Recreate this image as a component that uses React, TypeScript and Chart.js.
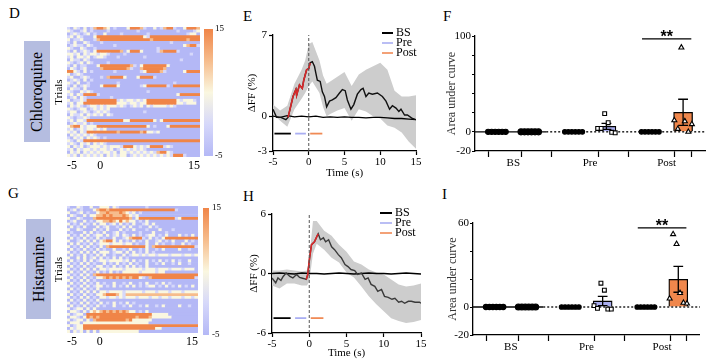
import React, { useEffect, useRef } from "react";
import { Chart, registerables } from "chart.js";

Chart.register(...registerables);

const SERIF = "'Liberation Serif', 'Times New Roman', Times, serif";

// ───────────── Heatmaps D (Chloroquine) and G (Histamine) ─────────────
// one string per trial, one character per 0.5 s bin from -5 s to 15 s
// character code -> ΔF/F value (%): 0 → -5, 1 → 0, 2 → 5, 3 → 10, 4 → 15
const heatCodeValues = [-5, 0, 5, 10, 15];
const heatStartTime = -5;
const heatBinWidth = 0.5;
const heatXTicks = [-5, 0, 15];
const colorbarRange = [-5, 15];

const heatRowsD = [
  "1021020134 4320100024 4431002013 4410024443",
  "2100120100 0010000000 0100000000 0001000012",
  "0121012010 0200001000 0000100000 0000001220",
  "1202100024 4444444444 4442144444 4444444444",
  "2011200013 4444444444 4444434444 4444443444",
  "1020021000 1000000000 0000000000 0100000000",
  "0121102100 0000100000 0000000000 0000023441",
  "2100210010 0000000000 0000000100 0000000000",
  "1020121024 4444443024 4420000134 4441000000",
  "2212021221 2210000100 0000000000 0000000100",
  "1202212012 2100010000 0001000000 0000000000",
  "0211021000 0000000000 0000000000 0000100000",
  "2101202100 0010000000 0000000000 0000000000",
  "1020110002 4444444443 1024444444 2000000000",
  "0210120000 3444444431 0034444443 0000000000",
  "4421020100 0000100000 0012444431 0000024444",
  "2012100000 0000000000 0000000000 0000000000",
  "1200121000 1034444200 0244441000 0000000000",
  "0121020100 0000000000 0000000000 0000000000",
  "2102001000 0000010000 0000000000 0010000000",
  "1020121000 2444420000 0012444444 1044444444",
  "0211020000 0000000000 0000000000 0000000000",
  "2100212100 0000000000 0000100000 0000000000",
  "1202144441 0000000000 0000000000 0002444444",
  "0120210000 0001000000 0000000000 0000000000",
  "2011214444 4444412122 1212444444 4442122210",
  "1202244444 4444422212 2122444444 4442212220",
  "0212101221 2122212101 2120212222 1210000000",
  "2101220121 2120000000 0000000000 0000000000",
  "1220121012 1210000000 0001000000 0000000000",
  "0211202121 2021000000 0000000000 0000000000",
  "2101121000 0000000000 0000000000 0000000000",
  "1202214444 4444444224 4444442024 4444444444",
  "0121120100 0000000000 0000000000 0000000000",
  "2344212224 4444444444 4444201000 2444444444",
  "1201212212 1200000000 0000000000 0000000000",
  "2120214444 4444434444 4434221200 0000000000",
  "0212121210 0000000000 0000000000 0000000000",
  "1021202121 0100000000 0000000000 0000000000",
  "2102144444 4444444444 4444444444 4444444444",
  "1210212021 2100000000 0000000000 0000000000",
  "2021201222 1212221444 2121244441 2100000000",
  "1202122121 2212012121 2121000000 0000000000",
  "0212021212 1221202212 1212121344 2100000000",
  "2120212121 2021212201 2121212121 2144410000",
];

const heatRowsG = [
  "1002100200 2220210000 0000100000 0000000000",
  "0120100023 4434444444 4444444444 4441000000",
  "2001201002 3343334321 2010000000 0000000000",
  "0210020223 3434333432 1200000000 0000000000",
  "2002100034 4444444443 0244444444 4441244444",
  "0120020102 2334324232 2010200000 0000000000",
  "2010201020 2201202010 2001202000 0000000000",
  "0201020002 0120010202 0010020100 0000000000",
  "2002100020 1020002010 2000100020 0010000000",
  "0100020201 0200120100 0010002000 1000000000",
  "2010202012 2020120210 2010122010 2000201020",
  "0201020102 0100200123 4441020102 4444444444",
  "2001202020 2344202010 2010200120 1020002010",
  "0202010201 2221222122 0100200201 0010020100",
  "2010202010 2034444444 4444203444 4444444441",
  "0201020102 0100200102 0010200102 0000200100",
  "2010202020 2220122020 2010201000 0000000000",
  "0201020102 0200100201 2212122122 2122212212",
  "2002020120 2010202010 0000000000 0000000000",
  "0201020201 2212222120 2010201020 1020100200",
  "2010202010 0201020102 0100200102 0010200100",
  "0201020102 2010201020 2010200000 0000000000",
  "2010202020 2212222122 2221222122 2122212220",
  "0201020102 0102010222 2212222122 0000000000",
  "2010202034 4444444444 4444444444 4444444444",
  "0201020102 2343434343 4421034444 4444444441",
  "2010202010 0000000000 0000000000 0000000000",
  "0201020102 0100200102 0010200102 0100000000",
  "2010202012 2010201020 2010122010 2010201020",
  "0201020102 0000000000 0000000000 0000000000",
  "2010202020 2212222122 2221222122 2122212222",
  "0201020102 2344432133 3333333333 3333333333",
  "2010202010 2212212122 2122212212 2122212212",
  "0201020102 0000000000 0000000000 0000000000",
  "2010202010 2010201020 1000000000 0000000000",
  "0201020102 0100200102 0010200102 0000200100",
  "2012202020 0000000000 0000000000 0000000000",
  "0221020232 3434343432 2010200000 0000000000",
  "2012204444 4444444444 4444442222 2000000000",
  "0221024343 4444444444 4344432222 2200000000",
  "2012202034 4444444434 2222220000 0000000000",
  "0222022222 2222222222 2222200000 0000000000",
  "2012244444 4444444444 4444444444 4444444444",
  "0212244444 4444444444 4444444220 0000000000",
  "2021202020 2222222222 2200000000 0000000000",
];

// ───────────── Mean traces E (Chloroquine) and H (Histamine) ─────────────
const periodNames = ["BS", "Pre", "Post"];
const periodWindows = [
  [-4.8, -2.5],
  [-1.9, -0.4],
  [0.2, 1.9],
];

const eTime = [-5, -4.5, -3.9, -3.2, -2.9, -2.7, -2.2, -1.8, -1.7, -1.3, -0.9, -0.7, -0.3, 0.0, 0.2, 0.5, 0.8, 1.0, 1.2, 1.6, 1.9, 2.2, 2.5, 2.9, 3.3, 3.8, 4.3, 4.7, 5.1, 5.4, 5.9, 6.3, 6.8, 7.3, 7.6, 8.0, 8.4, 8.9, 9.6, 10.3, 10.8, 11.3, 11.7, 12.2, 12.6, 12.9, 13.4, 13.8, 14.5, 15.0];
const eMean = [0.6, -0.1, -0.1, -0.3, -0.1, 0.4, 1.7, 2.3, 1.8, 2.7, 2.4, 3.1, 4.0, 4.1, 4.6, 4.7, 4.3, 3.7, 3.1, 3.0, 2.1, 1.7, 0.8, 1.3, 1.4, 1.6, 2.0, 2.3, 2.2, 1.4, 0.6, 1.0, 1.9, 2.3, 2.4, 1.7, 2.0, 1.9, 2.0, 1.7, 1.3, 0.6, 0.9, 0.7, 0.4, 0.6, 0.1, 0.1, -0.2, -0.3];
const eRedWindow = [-2.9, 0.2];
const eFlatTime = [-5, -4, -3, -2, -1, 0, 1, 2, 3, 4, 5, 6, 7, 8, 9, 10, 11, 12, 13, 14, 15];
const eFlat = [0.0, -0.1, 0.05, -0.05, 0.0, -0.05, 0.0, -0.1, -0.05, -0.1, -0.05, -0.1, -0.1, -0.15, -0.1, -0.1, -0.15, -0.2, -0.2, -0.25, -0.3];
const eBandTime = [-5, -4, -3, -2, -1, -0.5, 0, 0.5, 1, 1.5, 2, 2.5, 3, 4, 5, 6, 7, 8, 9, 10, 11, 12, 13, 14, 15];
const eUpper = [1.0, 0.5, 0.9, 2.8, 4.0, 4.8, 6.2, 6.4, 5.6, 4.8, 3.5, 2.8, 3.0, 3.4, 3.8, 2.6, 3.6, 4.0, 4.3, 4.6, 4.0, 2.2, 1.7, 1.7, 1.8];
const eLower = [0.2, -0.4, -0.9, 0.6, 1.5, 2.0, 2.6, 3.0, 2.5, 2.0, 0.8, 0.0, 0.2, 0.5, 0.7, -0.4, 0.6, 0.4, 0.0, -0.2, -0.8, -1.0, -1.4, -2.2, -2.8];
const eYTicks = [-3, 0, 7];
const ePeriodLevel = -1.5;

const hTime = [-5, -4.5, -4.2, -3.8, -3.5, -3.1, -2.6, -2.2, -1.7, -1.3, -0.8, -0.4, -0.2, 0.05, 0.3, 0.7, 1.0, 1.2, 1.5, 1.9, 2.2, 2.6, 3.0, 3.4, 3.9, 4.3, 4.8, 5.2, 5.6, 6.1, 6.5, 7.0, 7.5, 7.9, 8.3, 8.8, 9.2, 9.7, 10.1, 10.6, 11.1, 11.5, 12.0, 12.4, 12.8, 13.3, 13.7, 14.2, 14.8, 15.0];
const hMean = [-0.45, -0.95, -0.45, -0.7, -0.3, 0.05, -0.3, -0.45, -0.1, -0.4, -0.5, -0.6, -0.1, 1.6, 2.9, 3.2, 3.7, 4.0, 3.4, 3.6, 3.2, 3.4, 2.7, 2.4, 1.9, 1.6, 0.9, 0.7, 0.4, 0.3, -0.1, 0.05, -0.6, -0.45, -1.1, -1.3, -1.8, -1.6, -2.3, -2.4, -2.6, -2.5, -2.9, -2.8, -3.0, -2.8, -2.8, -2.9, -2.9, -3.0];
const hRedWindow = [-0.4, 1.2];
const hFlatTime = [-5, -4, -3, -2, -1, 0, 1, 2, 3, 4, 5, 6, 7, 8, 9, 10, 11, 12, 13, 14, 15];
const hFlat = [0, 0.05, 0, -0.05, 0.05, 0, 0, -0.05, 0, 0.05, 0, -0.05, 0, 0.05, 0, 0, -0.05, 0, 0.05, 0, -0.05];
const hBandTime = [-5, -4, -3, -2, -1, -0.3, 0, 0.5, 1, 2, 3, 4, 5, 6, 7, 8, 9, 10, 11, 12, 13, 14, 15];
const hUpper = [0.3, 0.3, 0.4, 0.3, 0.2, 0.3, 1.5, 5.3, 5.3, 4.3, 3.8, 2.9, 2.2, 1.2, 0.9, 0.4, 0.1, -0.1, -0.6, -1.1, -1.3, -1.2, -1.0];
const hLower = [-1.2, -1.5, -1.0, -1.0, -1.2, -1.2, -0.8, 2.0, 3.0, 2.4, 1.6, 1.1, 0.1, -0.4, -1.3, -2.3, -3.1, -3.8, -4.5, -4.8, -5.0, -4.9, -4.7];
const hYTicks = [-6, 0, 6];
const hPeriodLevel = -4.5;

// ───────────── Area under curve F (Chloroquine) and I (Histamine) ─────────────
const groupLabels = ["BS", "Pre", "Post"];
const fBS1 = [0, 0, 0, 0, 0, 0];
const fBS2 = [0, 0, 0, 0, 0, 0];
const fPre1 = [0, 0, 0, 0, 0, 0];
const fPre2 = [3.5, 3.5, 19, 9.5, -0.5, -1];
const fPost1 = [0, 0, 0, 0, 0, 0];
const fPost2 = [12, 3, 88, 11, 0, 8];
const fYLabelled = [-20, 0, 100];
const fSignificance = 97;

const iBS1 = [0, 0, 0, 0, 0, 0];
const iBS2 = [0, 0, 0, 0, 0, 0];
const iPre1 = [0, 0, 0, 0, 0, 0];
const iPre2 = [1, -1, 17, 12, -1.5, -1.5];
const iPost1 = [0, 0, 0, 0, 0, 0];
const iPost2 = [6, 52, 45, 10, 3, 2.5];
const iYLabelled = [-20, 0, 60];
const iSignificance = 56.5;

// ───────────── styles ─────────────
const colorStops: [number, number[]][] = [
  [-5, [180, 184, 246]],
  [0, [214, 216, 250]],
  [5, [250, 247, 224]],
  [10, [246, 188, 140]],
  [15, [240, 133, 72]],
];
const PRE_BLUE = "#a9adee";
const POST_ORANGE = "#f0874c";
const periodColors = ["#000000", "#a9aef2", "#f08a55"];
const BAND = "rgba(205,205,205,1)";
const RED = "#d9282a";

function rgb(c: number[]) {
  return `rgb(${Math.round(c[0])},${Math.round(c[1])},${Math.round(c[2])})`;
}
function valueColor(v: number) {
  if (v <= colorStops[0][0]) return rgb(colorStops[0][1]);
  for (let i = 1; i < colorStops.length; i++) {
    const [v1, c1] = colorStops[i];
    const [v0, c0] = colorStops[i - 1];
    if (v <= v1) {
      const f = (v - v0) / (v1 - v0);
      return rgb(c0.map((x, k) => x + (c1[k] - x) * f));
    }
  }
  return rgb(colorStops[colorStops.length - 1][1]);
}

const tickFont = { family: SERIF, size: 11 };
const titleFont = { family: SERIF, size: 11 };

const fixWidth = (w: number) => (s: any) => {
  s.width = w;
};
const fixHeight = (h: number) => (s: any) => {
  s.height = h;
};
const setTicks = (vals: number[]) => (s: any) => {
  s.ticks = vals.map((value) => ({ value }));
};

// ───────────── heatmap ─────────────
function heatConfig(rows: string[], lay: { top: number; right: number; xH: number; yW: number; titlePad: number }) {
  const cells: any[] = [];
  const colors: string[] = [];
  rows.forEach((raw, r) => {
    const row = raw.replace(/\s/g, "");
    let j = 0;
    while (j < row.length) {
      let k = j + 1;
      while (k < row.length && row[k] === row[j]) k++;
      cells.push({ x: [heatStartTime + j * heatBinWidth, heatStartTime + k * heatBinWidth], y: String(r) });
      colors.push(valueColor(heatCodeValues[Number(row[j])]));
      j = k;
    }
  });
  return {
    type: "bar",
    data: {
      labels: rows.map((_, r) => String(r)),
      datasets: [{ data: cells, backgroundColor: colors, borderWidth: 0, barPercentage: 1, categoryPercentage: 1 }],
    },
    options: {
      indexAxis: "y",
      responsive: false,
      animation: false,
      devicePixelRatio: 1,
      layout: { padding: { top: lay.top, right: lay.right, left: 0, bottom: 0 } },
      plugins: { legend: { display: false }, tooltip: { enabled: false } },
      scales: {
        x: {
          type: "linear",
          min: heatStartTime,
          max: 15,
          afterBuildTicks: setTicks(heatXTicks),
          ticks: { align: "inner", font: { family: SERIF, size: 12 }, color: "#000", padding: 2, maxRotation: 0, autoSkip: false },
          grid: { display: false, drawTicks: false },
          border: { display: false },
          afterFit: fixHeight(lay.xH),
        },
        y: {
          type: "category",
          ticks: { display: false },
          grid: { display: false, drawTicks: false },
          border: { display: false },
          title: { display: true, text: "Trials", font: { family: SERIF, size: 11 }, color: "#000", padding: { top: lay.titlePad, bottom: 0 } },
          afterFit: fixWidth(lay.yW),
        },
      },
    },
  };
}

function colorbarConfig(lay: { left: number; top: number; bottom: number; yW: number; pad: number }) {
  const fill = (ctx: any) => {
    const chart = ctx.chart;
    const y = chart.scales.y;
    if (!chart.chartArea || !y) return "#ccc";
    const g = chart.ctx.createLinearGradient(0, y.getPixelForValue(colorbarRange[0]), 0, y.getPixelForValue(colorbarRange[1]));
    colorStops.forEach(([v, c]) => g.addColorStop((v - colorbarRange[0]) / (colorbarRange[1] - colorbarRange[0]), rgb(c)));
    return g;
  };
  return {
    type: "bar",
    data: { labels: [""], datasets: [{ data: [colorbarRange], backgroundColor: fill, borderWidth: 0, barPercentage: 1, categoryPercentage: 1 }] },
    options: {
      responsive: false,
      animation: false,
      devicePixelRatio: 1,
      layout: { padding: { left: lay.left, top: lay.top, bottom: lay.bottom, right: 0 } },
      plugins: { legend: { display: false }, tooltip: { enabled: false } },
      scales: {
        x: { display: false },
        y: {
          position: "right",
          min: colorbarRange[0],
          max: colorbarRange[1],
          afterBuildTicks: setTicks(colorbarRange),
          ticks: { font: { family: SERIF, size: 9 }, color: "#000", padding: lay.pad },
          grid: { display: false, drawTicks: false },
          border: { display: false },
          afterFit: fixWidth(lay.yW),
        },
      },
    },
  };
}

// ───────────── trace ─────────────
const periodLegendPlugin = {
  id: "periodLegend",
  afterDatasetsDraw(chart: any, _args: any, opts: any) {
    const { ctx, chartArea } = chart;
    ctx.save();
    periodNames.forEach((name, i) => {
      const y = chartArea.top + opts.y0 + i * opts.dy;
      const x0 = chartArea.right + opts.x0;
      ctx.strokeStyle = periodColors[i];
      ctx.lineWidth = i === 0 ? 2 : 1.6;
      ctx.beginPath();
      ctx.moveTo(x0, y);
      ctx.lineTo(x0 + opts.len, y);
      ctx.stroke();
      ctx.fillStyle = "#000";
      ctx.font = `12px ${SERIF}`;
      ctx.textBaseline = "middle";
      ctx.textAlign = "left";
      ctx.fillText(name, x0 + opts.len + 3, y);
    });
    ctx.restore();
  },
};

const pts = (xs: number[], ys: number[]) => xs.map((x, i) => ({ x, y: ys[i] }));

function traceConfig(p: any) {
  const yMin = p.yTicks[0];
  const yMax = p.yTicks[p.yTicks.length - 1];
  const meanPts = pts(p.time, p.mean);
  const axisGrid = { drawOnChartArea: false, tickLength: 4, tickColor: "#000", tickWidth: 1.2 };
  const axisBorder = { color: "#000", width: 1.3 };
  return {
    type: "line",
    data: {
      datasets: [
        { data: pts(p.bandTime, p.upper), borderWidth: 0, fill: "+1", backgroundColor: BAND, order: 10 },
        { data: pts(p.bandTime, p.lower), borderWidth: 0, fill: false, order: 10 },
        { data: pts(p.flatTime, p.flat), borderColor: "#000", borderWidth: 1.3, fill: false, order: 6 },
        { data: meanPts, borderColor: p.traceColor, borderWidth: 1.4, fill: false, order: 5 },
        { data: meanPts.filter((q) => q.x >= p.red[0] && q.x <= p.red[1]), borderColor: RED, borderWidth: 1.6, fill: false, order: 4 },
        { data: [{ x: 0, y: yMin }, { x: 0, y: yMax }], borderColor: "#555", borderWidth: 1, borderDash: [3, 2], fill: false, order: 3 },
        ...periodWindows.map((w, i) => ({
          data: [{ x: w[0], y: p.periodLevel }, { x: w[1], y: p.periodLevel }],
          borderColor: periodColors[i],
          borderWidth: 1.8,
          fill: false,
          order: 2,
        })),
      ],
    },
    options: {
      responsive: false,
      animation: false,
      devicePixelRatio: 1,
      layout: { padding: { top: p.lay.top, right: p.lay.right, left: 0, bottom: 0 } },
      elements: { point: { radius: 0 }, line: { tension: 0 } },
      plugins: { legend: { display: false }, tooltip: { enabled: false }, periodLegend: p.legend },
      scales: {
        x: {
          type: "linear",
          min: -5,
          max: 15,
          ticks: { stepSize: 5, font: tickFont, color: "#000", padding: 1, maxRotation: 0, autoSkip: false },
          grid: axisGrid,
          border: axisBorder,
          title: { display: true, text: "Time (s)", font: titleFont, color: "#000", padding: { top: 0, bottom: p.lay.xTitlePad } },
          afterFit: fixHeight(p.lay.xH),
        },
        y: {
          type: "linear",
          min: yMin,
          max: yMax,
          afterBuildTicks: setTicks(p.yTicks),
          ticks: { font: tickFont, color: "#000", padding: 2 },
          grid: axisGrid,
          border: axisBorder,
          title: { display: true, text: "ΔFF (%)", font: titleFont, color: "#000", padding: { top: p.lay.yTitlePad, bottom: 0 } },
          afterFit: fixWidth(p.lay.yW),
        },
      },
    },
    plugins: [periodLegendPlugin],
  };
}

// ───────────── area under curve bars ─────────────
const groupPositions = [2, 5, 9, 12, 16, 19];
const xAxisMax = 21;
const groupFills = ["#ffffff", "#ffffff", "#ffffff", PRE_BLUE, "#ffffff", POST_ORANGE];
const groupPointStyles = ["circle", "circle", "circle", "rect", "circle", "triangle"];
const groupPointFills = ["#000", "#000", "#000", "#fff", "#000", "#fff"];
const groupPointRadius = [2.6, 3, 2.3, 2.7, 2.3, 2.9];
const pointSpread = 0.32;
const capHalf = 0.45;
const sigOverhang = 0.75;

const mean = (v: number[]) => v.reduce((a, b) => a + b, 0) / v.length;
const sem = (v: number[]) => {
  const m = mean(v);
  const sd = Math.sqrt(v.reduce((a, b) => a + (b - m) * (b - m), 0) / (v.length - 1));
  return sd / Math.sqrt(v.length);
};

const starsPlugin = {
  id: "stars",
  afterDatasetsDraw(chart: any, _a: any, opts: any) {
    const { ctx, scales } = chart;
    const x = scales.x.getPixelForValue(opts.xMid);
    const y = scales.y.getPixelForValue(opts.level);
    ctx.save();
    ctx.fillStyle = "#000";
    ctx.font = "bold 16px 'Liberation Sans', Arial, sans-serif";
    ctx.textAlign = "center";
    ctx.textBaseline = "alphabetic";
    ctx.fillText("**", x, y + 3);
    ctx.restore();
  },
};

function barConfig(p: any) {
  const groups: number[][] = p.groups;
  const means = groups.map(mean);
  const sems = groups.map(sem);
  const labelPositions = groupLabels.map((_, k) => (groupPositions[2 * k] + groupPositions[2 * k + 1]) / 2);
  const tickValues = [...groupPositions, ...labelPositions].sort((a, b) => a - b);
  const isLabel = (v: number) => labelPositions.some((lp) => Math.abs(lp - v) < 1e-6);
  const err: any[] = [];
  groupPositions.forEach((x, i) => {
    if (!(sems[i] > 0)) return;
    const lo = means[i] - sems[i];
    const hi = means[i] + sems[i];
    err.push({ x, y: lo }, { x, y: hi }, { x, y: null });
    err.push({ x: x - capHalf, y: hi }, { x: x + capHalf, y: hi }, { x, y: null });
    err.push({ x: x - capHalf, y: lo }, { x: x + capHalf, y: lo }, { x, y: null });
  });
  const solidEnd = groupPositions[1] + 1.5;
  const sigFrom = groupPositions[4] - sigOverhang;
  const sigTo = groupPositions[5] + sigOverhang;
  const yMin = p.yLabelled[0];
  const yMax = p.yLabelled[p.yLabelled.length - 1];
  const grid = { drawOnChartArea: false, tickColor: "#000", tickWidth: 1.2 };
  return {
    type: "bar",
    data: {
      datasets: [
        {
          type: "bar",
          data: groupPositions.map((x, i) => ({ x, y: means[i] })),
          backgroundColor: groupFills,
          borderColor: "#000",
          borderWidth: 1.3,
          barThickness: 19,
          order: 6,
        },
        { type: "line", data: [{ x: 0, y: 0 }, { x: solidEnd, y: 0 }], borderColor: "#000", borderWidth: 1.3, pointRadius: 0, order: 4 },
        { type: "line", data: [{ x: solidEnd, y: 0 }, { x: xAxisMax, y: 0 }], borderColor: "#000", borderWidth: 1.3, borderDash: [2, 2], pointRadius: 0, order: 4 },
        { type: "line", data: err, borderColor: "#000", borderWidth: 1.3, pointRadius: 0, spanGaps: false, order: 3 },
        { type: "line", data: [{ x: sigFrom, y: p.sig }, { x: sigTo, y: p.sig }], borderColor: "#000", borderWidth: 1.3, pointRadius: 0, order: 3 },
        ...groups.map((vals, gi) => ({
          type: "line",
          showLine: false,
          data: vals.map((v, j) => ({ x: groupPositions[gi] + (j - (vals.length - 1) / 2) * pointSpread, y: v })),
          pointStyle: groupPointStyles[gi],
          pointRadius: groupPointRadius[gi],
          pointBackgroundColor: groupPointFills[gi],
          pointBorderColor: "#000",
          pointBorderWidth: 1.1,
          order: 1,
        })),
      ],
    },
    options: {
      responsive: false,
      animation: false,
      devicePixelRatio: 1,
      layout: { padding: { top: p.lay.top, right: p.lay.right, left: 0, bottom: 0 } },
      plugins: { legend: { display: false }, tooltip: { enabled: false }, stars: { xMid: (sigFrom + sigTo) / 2, level: p.sig } },
      scales: {
        x: {
          type: "linear",
          min: 0,
          max: xAxisMax,
          offset: false,
          afterBuildTicks: setTicks(tickValues),
          ticks: {
            autoSkip: false,
            maxRotation: 0,
            padding: 0,
            font: tickFont,
            color: "#000",
            callback: (v: number) => {
              const k = labelPositions.findIndex((lp) => Math.abs(lp - v) < 1e-6);
              return k >= 0 ? groupLabels[k] : "";
            },
          },
          grid: { ...grid, tickLength: 6, tickColor: (c: any) => (c.tick && isLabel(c.tick.value) ? "rgba(0,0,0,0)" : "#000") },
          border: { color: "#000", width: 1.3 },
          afterFit: fixHeight(p.lay.xH),
        },
        y: {
          type: "linear",
          min: yMin,
          max: yMax,
          ticks: {
            stepSize: 20,
            font: tickFont,
            color: "#000",
            padding: 1,
            callback: (v: number) => (p.yLabelled.includes(v) ? String(v) : ""),
          },
          grid: { ...grid, tickLength: 3 },
          border: { color: "#000", width: 1.3 },
          title: { display: true, text: "Area under curve", font: { family: SERIF, size: 12 }, color: "#333", padding: { top: p.lay.yTitlePad, bottom: 0 } },
          afterFit: fixWidth(p.lay.yW),
        },
      },
    },
    plugins: [starsPlugin],
  };
}

// ───────────── components ─────────────
function ChartCanvas({ box, make }: { box: number[]; make: () => any }) {
  const ref = useRef<HTMLCanvasElement | null>(null);
  useEffect(() => {
    if (!ref.current) return;
    const chart = new Chart(ref.current, make());
    return () => chart.destroy();
  }, []);
  const [left, top, width, height] = box;
  return (
    <div style={{ position: "absolute", left, top, width, height }}>
      <canvas ref={ref} width={width} height={height} style={{ display: "block", width, height }} />
    </div>
  );
}

function Letter({ text, left, top }: { text: string; left: number; top: number }) {
  return <div style={{ position: "absolute", left, top, font: `15px ${SERIF}`, lineHeight: "15px", color: "#000" }}>{text}</div>;
}

function DrugBox({ text, left, top, width, height }: { text: string; left: number; top: number; width: number; height: number }) {
  return (
    <div
      style={{
        position: "absolute",
        left,
        top,
        width,
        height,
        background: "#b5bde0",
        display: "flex",
        alignItems: "center",
        justifyContent: "center",
      }}
    >
      <span style={{ transform: "rotate(-90deg)", whiteSpace: "nowrap", font: `16px ${SERIF}`, color: "#000" }}>{text}</span>
    </div>
  );
}

export default function App() {
  return (
    <div style={{ position: "absolute", left: 0, top: 0, width: 715, height: 362, background: "#fff", overflow: "hidden" }}>
      <Letter text="D" left={9} top={6} />
      <Letter text="E" left={243} top={9} />
      <Letter text="F" left={443} top={9} />
      <Letter text="G" left={8} top={186} />
      <Letter text="H" left={243} top={189} />
      <Letter text="I" left={442} top={187} />
      <DrugBox text="Chloroquine" left={24} top={41} width={26} height={101} />
      <DrugBox text="Histamine" left={26} top={219} width={25} height={100} />

      <ChartCanvas box={[50, 20, 155, 158]} make={() => heatConfig(heatRowsD, { top: 7, right: 5, xH: 21, yW: 17, titlePad: 3 })} />
      <ChartCanvas box={[200, 20, 35, 145]} make={() => colorbarConfig({ left: 4, top: 9, bottom: 9, yW: 22, pad: 2 })} />
      <ChartCanvas box={[50, 199, 153, 155]} make={() => heatConfig(heatRowsG, { top: 7, right: 5, xH: 21, yW: 17, titlePad: 3 })} />
      <ChartCanvas box={[199, 199, 35, 145]} make={() => colorbarConfig({ left: 4, top: 9, bottom: 9, yW: 25, pad: 3 })} />

      <ChartCanvas
        box={[235, 25, 195, 157]}
        make={() =>
          traceConfig({
            time: eTime, mean: eMean, red: eRedWindow, flatTime: eFlatTime, flat: eFlat,
            bandTime: eBandTime, upper: eUpper, lower: eLower, yTicks: eYTicks, periodLevel: ePeriodLevel,
            traceColor: "#111",
            lay: { top: 10, right: 14, yW: 38, xH: 31, yTitlePad: 11, xTitlePad: 2 },
            legend: { x0: -34, y0: -2, dy: 10, len: 11 },
          })
        }
      />
      <ChartCanvas
        box={[235, 204, 200, 156]}
        make={() =>
          traceConfig({
            time: hTime, mean: hMean, red: hRedWindow, flatTime: hFlatTime, flat: hFlat,
            bandTime: hBandTime, upper: hUpper, lower: hLower, yTicks: hYTicks, periodLevel: hPeriodLevel,
            traceColor: "#3a3a3a",
            lay: { top: 10, right: 14, yW: 37, xH: 27, yTitlePad: 13, xTitlePad: 0 },
            legend: { x0: -41, y0: -1, dy: 10, len: 12 },
          })
        }
      />

      <ChartCanvas
        box={[440, 20, 272, 160]}
        make={() =>
          barConfig({
            groups: [fBS1, fBS2, fPre1, fPre2, fPost1, fPost2],
            yLabelled: fYLabelled,
            sig: fSignificance,
            lay: { top: 16, right: 7, yW: 35, xH: 29, yTitlePad: 5 },
          })
        }
      />
      <ChartCanvas
        box={[440, 205, 265, 155]}
        make={() =>
          barConfig({
            groups: [iBS1, iBS2, iPre1, iPre2, iPost1, iPost2],
            yLabelled: iYLabelled,
            sig: iSignificance,
            lay: { top: 18, right: 5, yW: 33, xH: 25, yTitlePad: 6 },
          })
        }
      />
    </div>
  );
}
